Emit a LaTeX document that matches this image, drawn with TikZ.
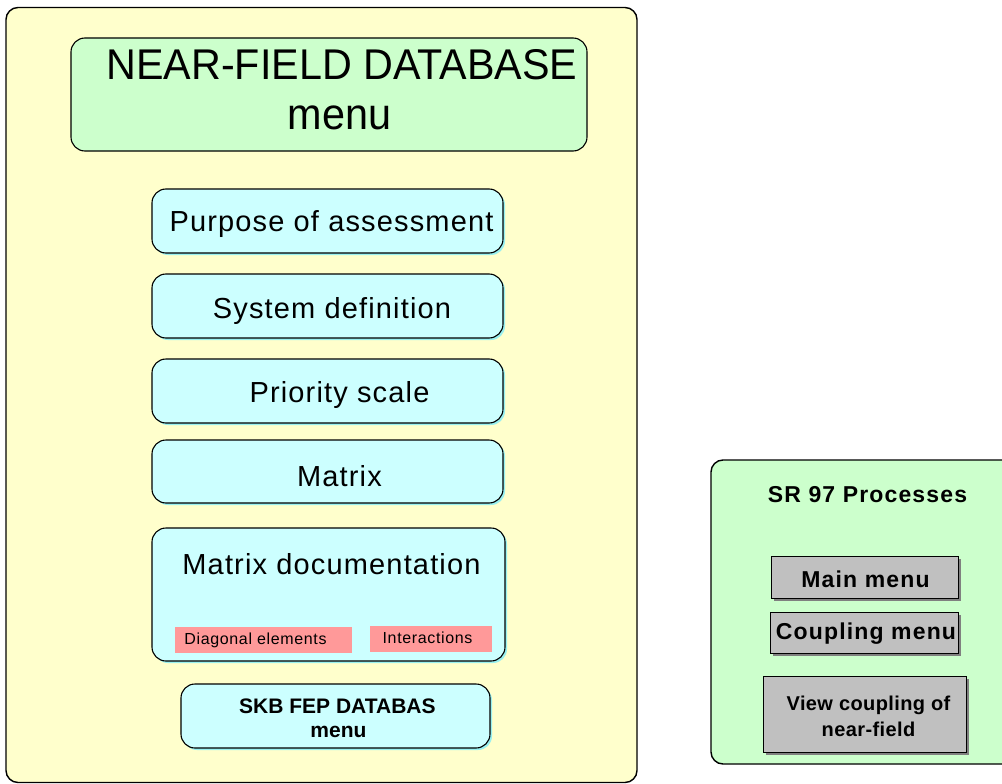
\documentclass[tikz,border=0pt]{standalone}
\usepackage{fontspec}
\setmainfont{Liberation Sans}
\newfontfamily\widefont[LetterSpace=5]{Liberation Sans}
\newfontfamily\viewfont[LetterSpace=2]{Liberation Sans}
\newfontfamily\midfont[LetterSpace=4]{Liberation Sans}
\usetikzlibrary{shadows}
\definecolor{yellowbg}{HTML}{FFFFCC}
\definecolor{greenbg}{HTML}{CCFFCC}
\definecolor{cyanbg}{HTML}{CCFFFF}
\definecolor{cyanshadow}{HTML}{99F0F0}
\definecolor{pinkbg}{HTML}{FF9999}
\definecolor{graybtn}{HTML}{C0C0C0}
\definecolor{grayshadow}{HTML}{808080}
\tikzset{
  panel/.style={draw=black, line width=1.4pt, rounded corners=12pt, inner sep=0pt},
  titlebox/.style={draw=black, line width=1.1pt, rounded corners=14pt, fill=greenbg, inner sep=0pt},
  menubox/.style={draw=black, line width=1.1pt, rounded corners=14pt, fill=cyanbg, inner sep=0pt,
    drop shadow={shadow xshift=2pt, shadow yshift=-2pt, fill=cyanshadow, opacity=1}},
  tag/.style={fill=pinkbg, draw=none, inner sep=0pt},
  button/.style={fill=graybtn, draw=black, line width=0.9pt, inner sep=0pt,
    drop shadow={shadow xshift=2.5pt, shadow yshift=-2.5pt, fill=grayshadow, opacity=1}},
  txt/.style={inner sep=0pt, align=center},
}
\begin{document}
\begin{tikzpicture}[x=1pt,y=-1pt]
\useasboundingbox (0,0) rectangle (1002,784);
\clip (0,0) rectangle (1002,784);

% left panel
\node[panel, fill=yellowbg, minimum width=631pt, minimum height=775pt] (leftpanel) at (321.5,395) {};

\node[titlebox, minimum width=516pt, minimum height=113pt] (titlebox) at (329,94.5) {};
\node[txt, anchor=base, font=\fontsize{43}{39}\selectfont] (titletxt1) at (342,80) {\scalebox{0.96}[1]{NEAR-FIELD DATABASE}};
\node[txt, anchor=base, font=\fontsize{44}{39}\selectfont] (titletxt2) at (339.5,129) {\scalebox{0.94}[1]{menu}};

\node[menubox, minimum width=351pt, minimum height=64pt] (purpose) at (327.5,221) {};
\node[txt, font=\midfont\fontsize{29}{34}\selectfont] (purposetxt) at (331.5,224) {Purpose of assessment};

\node[menubox, minimum width=351pt, minimum height=64pt] (system) at (327.5,306) {};
\node[txt, font=\midfont\fontsize{29}{34}\selectfont] (systemtxt) at (332,311) {System definition};

\node[menubox, minimum width=351pt, minimum height=64pt] (priority) at (327.5,391) {};
\node[txt, font=\midfont\fontsize{29}{34}\selectfont] (prioritytxt) at (339.5,395) {Priority scale};

\node[menubox, minimum width=351pt, minimum height=63pt] (matrix) at (327.5,471.5) {};
\node[txt, font=\midfont\fontsize{29}{34}\selectfont] (matrixtxt) at (339.5,476) {Matrix};

\node[menubox, minimum width=353pt, minimum height=133pt] (matdoc) at (328.5,594.5) {};
\node[txt, font=\midfont\fontsize{29}{34}\selectfont] (matdoctxt) at (331.5,564) {Matrix documentation};

\node[tag, minimum width=177pt, minimum height=26pt] (diag) at (263.5,640) {};
\node[txt, font=\midfont\fontsize{16}{18}\selectfont] (diagtxt) at (255.5,640) {Diagonal elements};
\node[tag, minimum width=122pt, minimum height=26pt] (inter) at (431,639) {};
\node[txt, font=\midfont\fontsize{16}{18}\selectfont] (intertxt) at (427.5,638) {Interactions};

\node[menubox, minimum width=309pt, minimum height=64pt] (skb) at (335.5,716) {};
\node[txt, anchor=west, font=\bfseries\fontsize{21}{24}\selectfont] (skbtxt1) at (239,706) {SKB FEP DATABAS};
\node[txt, font=\bfseries\fontsize{21}{24}\selectfont] (skbtxt2) at (338.5,732) {menu};

% right panel
\node[panel, fill=greenbg, minimum width=320pt, minimum height=304pt] (rightpanel) at (871,612) {};
\node[txt, font=\widefont\bfseries\fontsize{23}{26}\selectfont] (srtxt) at (867.5,495) {SR 97 Processes};

\node[button, minimum width=187pt, minimum height=42pt] (mainmenu) at (864.5,577) {};
\node[txt, font=\widefont\bfseries\fontsize{23}{26}\selectfont] (mainmenutxt) at (865.5,579) {Main menu};

\node[button, minimum width=188pt, minimum height=41pt] (coupling) at (864,632.5) {};
\node[txt, font=\widefont\bfseries\fontsize{23}{26}\selectfont] (couplingtxt) at (866,634) {Coupling menu};

\node[button, minimum width=203pt, minimum height=76pt] (viewcoupling) at (864.5,714) {};
\node[txt, font=\viewfont\bfseries\fontsize{20}{26}\selectfont] (viewtxt) at (868.5,716) {View coupling of\\near-field};
\end{tikzpicture}
\end{document}
